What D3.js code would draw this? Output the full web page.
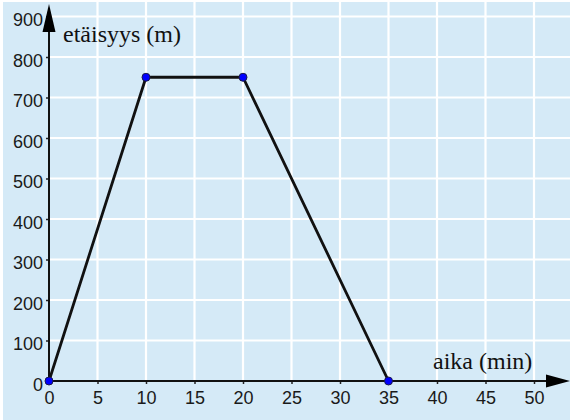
<!DOCTYPE html>
<html>
<head>
<meta charset="utf-8">
<script src="https://cdn.jsdelivr.net/npm/d3@7"></script>
<style>
  html, body { margin: 0; padding: 0; background: #ffffff; }
  svg { display: block; }
</style>
</head>
<body>
<svg id="chart" width="570" height="420"></svg>
<script>
// Journey: time (min) against distance (m)
const times = [0, 10, 20, 35];
const distances = [0, 750, 750, 0];
const xTicks = [0, 5, 10, 15, 20, 25, 30, 35, 40, 45, 50];
const yTicks = [0, 100, 200, 300, 400, 500, 600, 700, 800, 900];
const xTitle = "aika (min)";
const yTitle = "etäisyys (m)";

const W = 570, H = 420;
const svg = d3.select("#chart");

const x = d3.scaleLinear().domain([0, 50]).range([49, 534]);
const y = d3.scaleLinear().domain([0, 900]).range([381, 16.5]);

// background panel
svg.append("rect")
  .attr("x", 3).attr("y", 2)
  .attr("width", W - 3).attr("height", H - 2)
  .attr("fill", "#d5eaf7");

// white grid in the first quadrant
const grid = svg.append("g");
const xGridVals = d3.range(5, 60, 5).filter(v => x(v) < W);
grid.selectAll("line.gx").data(xGridVals).join("line")
  .attr("x1", d => x(d)).attr("x2", d => x(d))
  .attr("y1", 0).attr("y2", y(0))
  .attr("stroke", "#ffffff").attr("stroke-width", 2.2);
grid.selectAll("line.gy").data(yTicks.filter(v => v > 0)).join("line")
  .attr("x1", x(0)).attr("x2", W)
  .attr("y1", d => y(d)).attr("y2", d => y(d))
  .attr("stroke", "#ffffff").attr("stroke-width", 2.2);

// axes with small ticks
const xAxis = d3.axisBottom(x).tickValues(xTicks).tickSize(3).tickPadding(4).tickFormat(d3.format("d"));
const yAxis = d3.axisLeft(y).tickValues(yTicks).tickSize(3).tickPadding(3).tickFormat(d3.format("d"));

const gx = svg.append("g").attr("transform", `translate(0,${y(0)})`).call(xAxis);
const gy = svg.append("g").attr("transform", `translate(${x(0)},0)`).call(yAxis);

[gx, gy].forEach(g => {
  g.select(".domain").remove();
  g.selectAll(".tick line").attr("stroke", "#222").attr("stroke-width", 1.5);
  g.selectAll(".tick text")
    .attr("fill", "#1a1a1a")
    .style("font-family", "'Liberation Sans', Arial, sans-serif")
    .style("font-size", "18px");
});
gx.selectAll(".tick text").attr("dy", "0.9em");
gy.selectAll(".tick text").attr("dy", "0.52em");

// axis lines with arrowheads
svg.append("line")
  .attr("x1", x(0)).attr("x2", W - 18)
  .attr("y1", y(0)).attr("y2", y(0))
  .attr("stroke", "#111").attr("stroke-width", 2);
svg.append("path")
  .attr("d", `M${W},${y(0)} L${W - 24},${y(0) - 6.5} L${W - 24},${y(0) + 6.5} Z`)
  .attr("fill", "#000");

svg.append("line")
  .attr("x1", x(0)).attr("x2", x(0))
  .attr("y1", y(0)).attr("y2", 24)
  .attr("stroke", "#111").attr("stroke-width", 2);
svg.append("path")
  .attr("d", `M${x(0)},4 L${x(0) - 6.5},32 L${x(0) + 6.5},32 Z`)
  .attr("fill", "#000");

// axis titles
svg.append("text")
  .attr("x", 63).attr("y", 42)
  .style("font-family", "'Liberation Serif', 'Times New Roman', serif")
  .style("font-size", "24px")
  .attr("fill", "#111")
  .text(yTitle);
svg.append("text")
  .attr("x", 433).attr("y", 369)
  .style("font-family", "'Liberation Serif', 'Times New Roman', serif")
  .style("font-size", "24px")
  .attr("fill", "#111")
  .text(xTitle);

// the journey line and its corner points
const pts = times.map((t, i) => [t, distances[i]]);
svg.append("path")
  .datum(pts)
  .attr("d", d3.line().x(d => x(d[0])).y(d => y(d[1])))
  .attr("fill", "none")
  .attr("stroke", "#111")
  .attr("stroke-width", 2.8)
  .attr("stroke-linejoin", "round");

svg.selectAll("circle.pt").data(pts).join("circle")
  .attr("cx", d => x(d[0])).attr("cy", d => y(d[1]))
  .attr("r", 4)
  .attr("fill", "#0000ff")
  .attr("stroke", "#1a1a4a")
  .attr("stroke-width", 1);
</script>
</body>
</html>
